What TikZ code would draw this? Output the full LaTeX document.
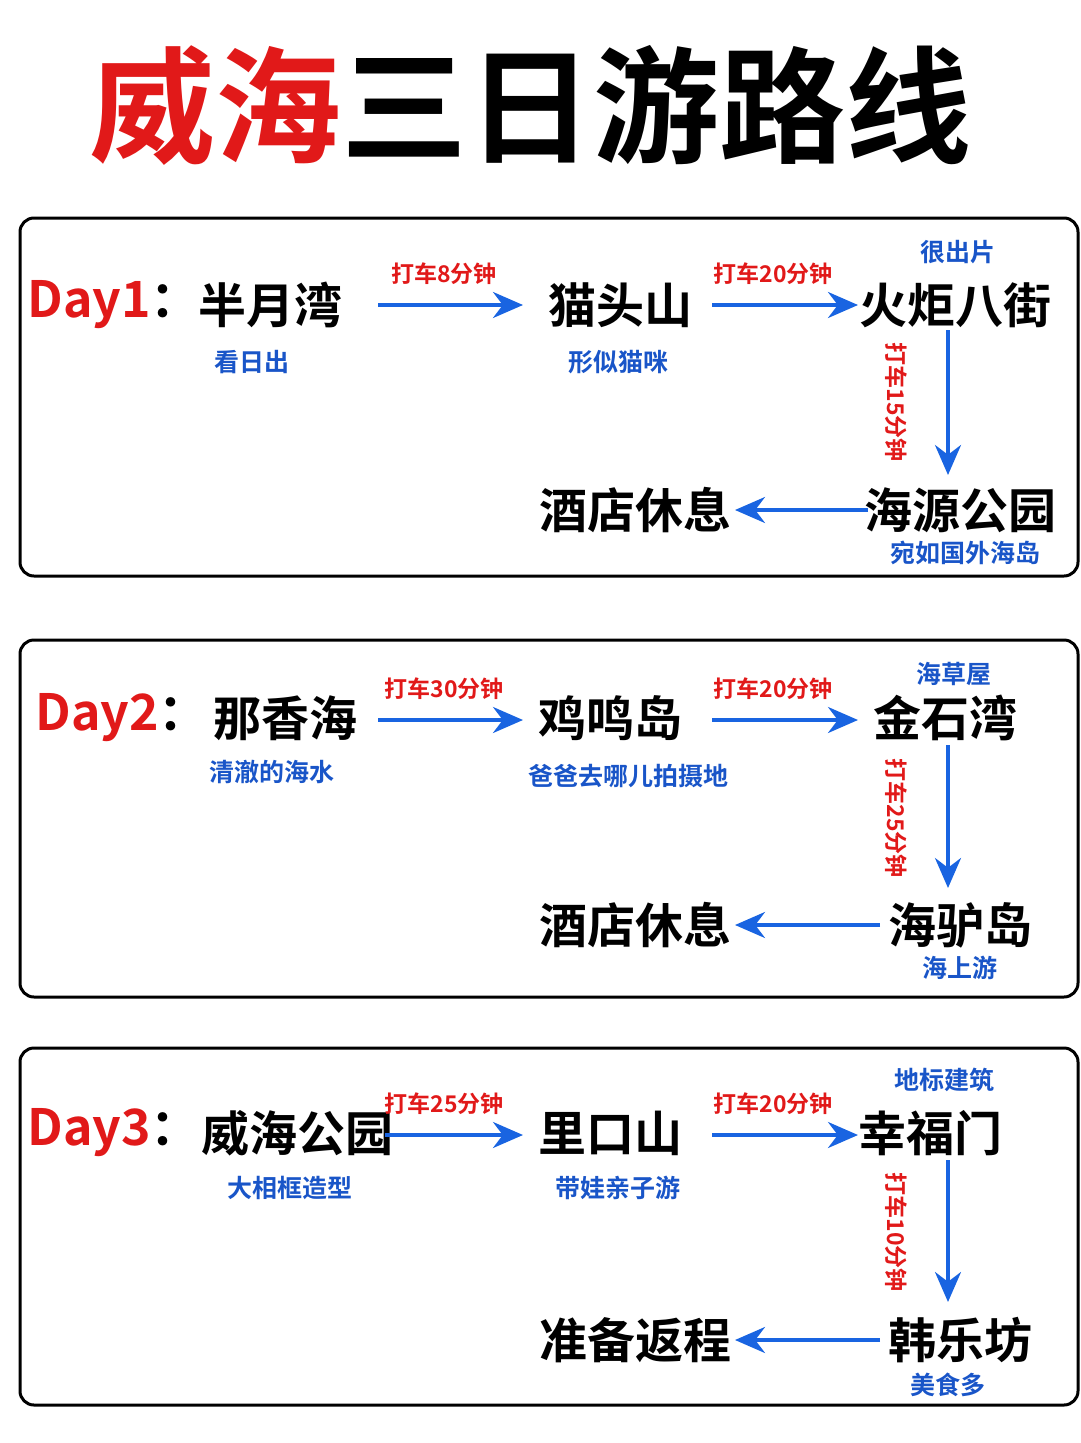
\documentclass[tikz,border=0pt]{standalone}
\usepackage{fontspec}
\setmainfont{Noto Sans CJK SC}[BoldFont={Noto Sans CJK SC Bold}]
\usetikzlibrary{arrows.meta}
\definecolor{myred}{RGB}{225,25,25}
\definecolor{myblue}{RGB}{25,85,200}
\definecolor{arrblue}{RGB}{25,100,225}
\tikzset{
 place/.style={font=\fontsize{48}{52}\selectfont\bfseries},
 sub/.style={font=\fontsize{25}{28}\selectfont\bfseries,text=myblue},
 lab/.style={font=\fontsize{23}{26}\selectfont\bfseries,text=myred},
 daylab/.style={font=\fontsize{50}{54}\selectfont\bfseries,text=myred},
 arr/.style={draw=arrblue,line width=3.5pt,-{Stealth[length=30pt,width=26pt]}},
 frame/.style={draw=black,line width=3pt,rounded corners=14pt}
}
\begin{document}
\begin{tikzpicture}[x=1pt,y=-1pt]
\useasboundingbox (0,0) rectangle (1080,1443);
\node (title) at (530,105) {\fontsize{126}{130}\selectfont\bfseries\textcolor{myred}{威海}三日游路线};
% Day1
\draw[frame] (20,218) rectangle (1078,576);
\node[daylab,anchor=west] (d1) at (24,305) {Day1\textcolor{black}{：}};
\node[place] (a1) at (270,305) {半月湾};
\node[sub] (a1s) at (252,362) {看日出};
\node[place] (b1) at (620,305) {猫头山};
\node[sub] (b1s) at (618,362) {形似猫咪};
\node[place] (c1) at (955,305) {火炬八街};
\node[sub] (c1s) at (958,252) {很出片};
\node[place] (e1) at (960,510) {海源公园};
\node[sub] (e1s) at (965,553) {宛如国外海岛};
\node[place] (f1) at (635,510) {酒店休息};
\coordinate (p1) at (378,305); \coordinate (q1) at (523,305);
\coordinate (p2) at (712,305); \coordinate (q2) at (858,305);
\coordinate (p3) at (948,330); \coordinate (q3) at (948,475);
\coordinate (p4) at (868,510); \coordinate (q4) at (735,510);
\draw[arr] (p1) -- (q1); \draw[arr] (p2) -- (q2); \draw[arr] (p3) -- (q3); \draw[arr] (p4) -- (q4);
\node[lab] (l11) at (444,274) {打车8分钟};
\node[lab] (l12) at (773,274) {打车20分钟};
\node[lab,rotate=-90] (l13) at (896,402) {打车15分钟};
% Day2
\draw[frame] (20,640) rectangle (1078,997);
\node[daylab,anchor=west] (d2) at (32,718) {Day2\textcolor{black}{：}};
\node[place] (a2) at (285,718) {那香海};
\node[sub] (a2s) at (272,772) {清澈的海水};
\node[place] (b2) at (610,718) {鸡鸣岛};
\node[sub] (b2s) at (628,776) {爸爸去哪儿拍摄地};
\node[place] (c2) at (945,718) {金石湾};
\node[sub] (c2s) at (954,674) {海草屋};
\node[place] (e2) at (960,925) {海驴岛};
\node[sub] (e2s) at (960,968) {海上游};
\node[place] (f2) at (635,925) {酒店休息};
\coordinate (r1) at (378,720); \coordinate (s1) at (523,720);
\coordinate (r2) at (712,720); \coordinate (s2) at (858,720);
\coordinate (r3) at (948,745); \coordinate (s3) at (948,888);
\coordinate (r4) at (880,925); \coordinate (s4) at (735,925);
\draw[arr] (r1) -- (s1); \draw[arr] (r2) -- (s2); \draw[arr] (r3) -- (s3); \draw[arr] (r4) -- (s4);
\node[lab] (l21) at (444,689) {打车30分钟};
\node[lab] (l22) at (773,689) {打车20分钟};
\node[lab,rotate=-90] (l23) at (896,818) {打车25分钟};
% Day3
\draw[frame] (20,1048) rectangle (1078,1405);
\node[daylab,anchor=west] (d3) at (24,1133) {Day3\textcolor{black}{：}};
\node[place] (a3) at (297,1133) {威海公园};
\node[sub] (a3s) at (290,1188) {大相框造型};
\node[place] (b3) at (610,1133) {里口山};
\node[sub] (b3s) at (618,1188) {带娃亲子游};
\node[place] (c3) at (930,1133) {幸福门};
\node[sub] (c3s) at (944,1080) {地标建筑};
\node[place] (e3) at (960,1340) {韩乐坊};
\node[sub] (e3s) at (948,1385) {美食多};
\node[place] (f3) at (635,1340) {准备返程};
\coordinate (u1) at (385,1135); \coordinate (v1) at (523,1135);
\coordinate (u2) at (712,1135); \coordinate (v2) at (858,1135);
\coordinate (u3) at (948,1160); \coordinate (v3) at (948,1302);
\coordinate (u4) at (880,1340); \coordinate (v4) at (735,1340);
\draw[arr] (u1) -- (v1); \draw[arr] (u2) -- (v2); \draw[arr] (u3) -- (v3); \draw[arr] (u4) -- (v4);
\node[lab] (l31) at (444,1104) {打车25分钟};
\node[lab] (l32) at (773,1104) {打车20分钟};
\node[lab,rotate=-90] (l33) at (896,1232) {打车10分钟};
\end{tikzpicture}
\end{document}
